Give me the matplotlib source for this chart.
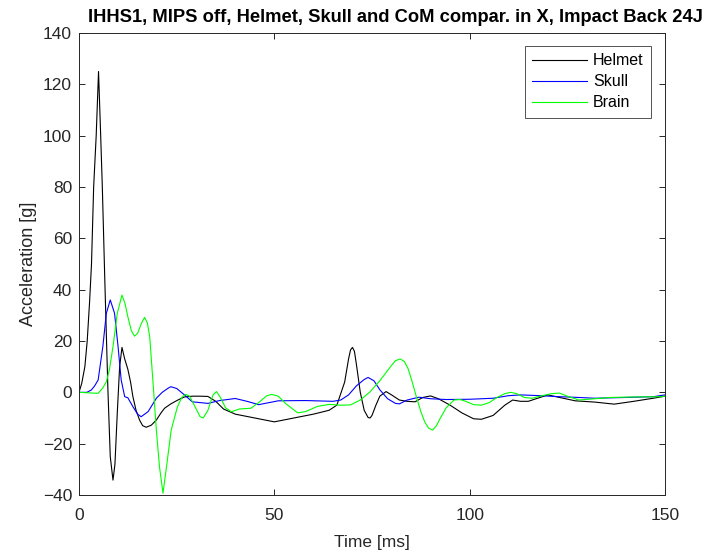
import matplotlib
matplotlib.use("Agg")
import matplotlib.pyplot as plt

plt.rcParams['font.family'] = ['Liberation Sans', 'DejaVu Sans']

helmet_t = [0, 0.7, 1.5, 2.1, 2.7, 3.2, 3.75, 4.4, 5, 5.55, 5.97, 6.6, 7.4, 8, 8.7, 9.2, 9.8, 10.4, 11,
            11.7, 12.5, 13.2, 13.8, 14.6, 15.5, 16.3, 17.2, 18.5, 19.8, 21, 21.9, 23.5, 25.3, 27, 29, 31,
            33, 35, 37, 40, 45, 50, 55, 60, 64, 66, 68, 69, 69.5, 70, 70.5, 71, 72, 73, 74, 74.5, 75, 76,
            77, 78.6, 80, 82, 84, 86, 88, 90, 92, 95, 98, 101, 103, 106, 109, 111, 113, 115, 117, 120,
            123, 127, 132, 137, 142, 147, 150]
helmet_a = [0, 3.5, 10, 20, 35, 50, 80, 100, 125, 100, 80, 44, 1, -25, -34.2, -28, -8, 10, 17.5,
            13, 9, 4, -1.7, -7, -10.8, -13, -13.6, -12.8, -10.8, -8, -6.2, -4.5, -3, -1.8, -1.5, -1.5,
            -1.6, -3.5, -6.5, -8.5, -10, -11.5, -10, -8.5, -7, -5, 4, 13, 16.5, 17.5, 16, 11, 0, -7, -9.8,
            -10, -9, -5, -1.5, 0.3, -1, -3, -3.5, -3.7, -2, -1.4, -2.5, -5, -8, -10.3, -10.5, -9, -5, -3,
            -3.5, -3.5, -2.5, -1, -2, -3.3, -3.8, -4.6, -3.5, -2.3, -1.5]

skull_t = [0, 2, 3.15, 4, 4.9, 6.1, 7, 8, 9.1, 10, 10.8, 11.7, 12.5, 13.8, 15, 15.9, 17.7, 19.8,
           21.3, 22.8, 23.5, 25, 27, 29, 31, 33, 36, 40, 43, 46, 51, 58, 65, 67, 69, 71, 73, 74, 75.5,
           77, 79, 81, 82, 84, 87, 90, 94, 100, 106, 110, 113, 118, 123, 128, 132, 140, 147, 150]
skull_a = [0, 0, 0.9, 2.5, 4.8, 17.8, 30.8, 36, 30.8, 17.8, 4.8, -1.7, -2.1, -5.6, -8.5, -9.5,
           -7.5, -2.3, 0, 1.6, 2.2, 1.5, -1, -3.7, -4, -4.3, -3.2, -2.4, -3.5, -4.8, -3.3, -3.2, -3.5, -3,
           -1, 2.5, 5, 5.8, 4.5, 1, -2.5, -4.3, -4.5, -3, -1.9, -2.5, -2.8, -2.7, -2.3, -1.3, -1, -1.3,
           -1.7, -2, -2.3, -2, -1.7, -1]

brain_t = [0, 4.9, 6, 7, 7.8, 8.7, 9.8, 11, 11.8, 12.5, 13.4, 14.2, 15, 16, 16.8, 17.5, 18.1, 18.9,
           19.8, 20.6, 21.5, 22.4, 23.6, 25.2, 26.3, 27.3, 28.3, 29.5, 31, 31.8, 33, 34.3, 35.2, 36.2,
           37.5, 39, 41, 44, 46, 48, 49.3, 51, 53, 56, 58, 61, 64, 67, 69.5, 72, 74.5, 77, 79, 80, 81,
           82.2, 83.3, 84.3, 85.3, 86.5, 87.5, 88.5, 89.5, 90.5, 91.5, 92.5, 94, 96, 97.5, 99, 101, 103,
           105, 107, 109, 110.5, 112, 114, 116, 118, 121, 123, 125, 128, 132, 136, 142, 149, 150]
brain_a = [0, -0.4, 1.5, 4.1, 9, 17.8, 30.8, 37.9, 34.5, 29.5, 24, 21.9, 23, 27, 29.2, 27, 21.7, 4.8,
           -14.7, -29, -39.3, -29, -14.7, -5.6, -2, -0.8, -1.5, -5, -9.5, -10, -7, -1, 0.3, -2,
           -6, -7.6, -6.5, -6.2, -4, -1.4, -0.8, -1.5, -4.5, -8, -7.5, -5.5, -4.7, -5, -4.9, -3, 0.2, 4.5,
           8.5, 10.5, 12.3, 13, 12, 9, 4, -2.5, -7.5, -11.5, -14, -14.7, -13, -10, -6, -3, -2.8, -3.5,
           -4.8, -5, -4, -2, -0.5, 0, -0.5, -2, -2.3, -1.5, -0.5, -0.3, -1.5, -3, -2.5, -2, -1.8, -1.7,
           -1.5]

title = "IHHS1, MIPS off, Helmet, Skull and CoM compar. in X, Impact Back 24J"
xticks = [0, 50, 100, 150]
yticks = list(range(-40, 141, 20))

fig = plt.figure(figsize=(7.06, 5.56), dpi=100)
ax = fig.add_axes([79/706, 61/556, 586/706, 462/556])
lw = 0.8
ax.plot(helmet_t, helmet_a, color='black', lw=lw, label='Helmet')
ax.plot(skull_t, skull_a, color='#0000ff', lw=lw, label='Skull')
ax.plot(brain_t, brain_a, color='#00ff00', lw=lw, label='Brain')

ax.set_xlim(0, 150)
ax.set_ylim(-40, 140)
ax.set_xticks(xticks)
ax.set_yticks(yticks)
gray = '#262626'
for s in ax.spines.values():
    s.set_color('#262626')
    s.set_linewidth(0.7)
ax.tick_params(direction='in', top=True, right=True, length=4, width=0.7,
               colors=gray, labelsize=12.5, labelcolor=gray)
ax.tick_params(axis='x', pad=9)
ax.tick_params(axis='y', pad=5)
ax.set_xlabel('Time [ms]', fontsize=12.5, color=gray, labelpad=9)
ax.set_ylabel('Acceleration [g]', fontsize=13, color=gray, labelpad=4)
fig.text(395/706, 1 - 17/556, title, ha='center', va='center', fontsize=13.2, fontweight='bold',
         color='black')
leg = ax.legend(loc='upper right', bbox_to_anchor=(651/706, 1 - 46/556),
                bbox_transform=fig.transFigure, borderaxespad=0,
                fontsize=11.5, frameon=True, fancybox=False, edgecolor=gray,
                handlelength=3.4, labelspacing=0.38, handletextpad=0.4,
                borderpad=0.45)
leg.get_frame().set_linewidth(0.7)
fig.savefig('out.png', dpi=100)
